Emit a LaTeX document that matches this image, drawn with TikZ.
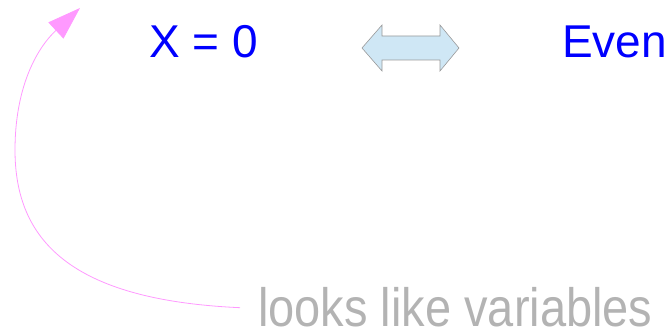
\documentclass[tikz,border=0pt]{standalone}
\usepackage{fontspec}
\setmainfont{Liberation Sans}
\newfontfamily\narrowfont[FakeStretch=0.87]{Liberation Sans}
\usetikzlibrary{arrows.meta}
\definecolor{hintgray}{HTML}{B3B3B3}
\definecolor{hintpink}{HTML}{FF99FF}
\definecolor{arrowfill}{HTML}{CFE7F5}
\definecolor{arrowedge}{HTML}{999999}
\tikzset{
  bigtext/.style={font=\fontsize{46}{50}\selectfont, text=blue, anchor=base west, inner sep=0pt},
  hinttext/.style={font=\narrowfont\fontsize{54}{58}\selectfont, text=hintgray, anchor=base west, inner xsep=18pt, inner ysep=0pt},
  hintline/.style={hintpink, line width=0.8pt, -{Triangle[length=33pt, width=22pt, fill=hintpink]}}
}
\begin{document}
\begin{tikzpicture}[x=1pt, y=-1pt]
        \useasboundingbox (0,0) rectangle (664,328);

        % Equation and its counterpart
        \node[bigtext] (xzero) at (149,58) {X = 0};
        \node[bigtext] (event) at (562,58) {Even};

        % Double arrow between them
        \draw[arrowedge, fill=arrowfill, line width=0.6pt]
            (362,48) -- (382,25) -- (382,36) -- (440,36) -- (440,25) -- (459,48)
            -- (440,71) -- (440,60) -- (382,60) -- (382,71) -- cycle;

        % Remark and its pointer
        \node[hinttext] (looks) at (240,327) {looks like variables};
        \coordinate (tip) at (80,8);
        \draw[hintline] (looks.west) .. controls (70,300) and (15,240) .. (15,150)
            .. controls (15,90) and (35,50) .. (tip);

    \end{tikzpicture}
\end{document}
